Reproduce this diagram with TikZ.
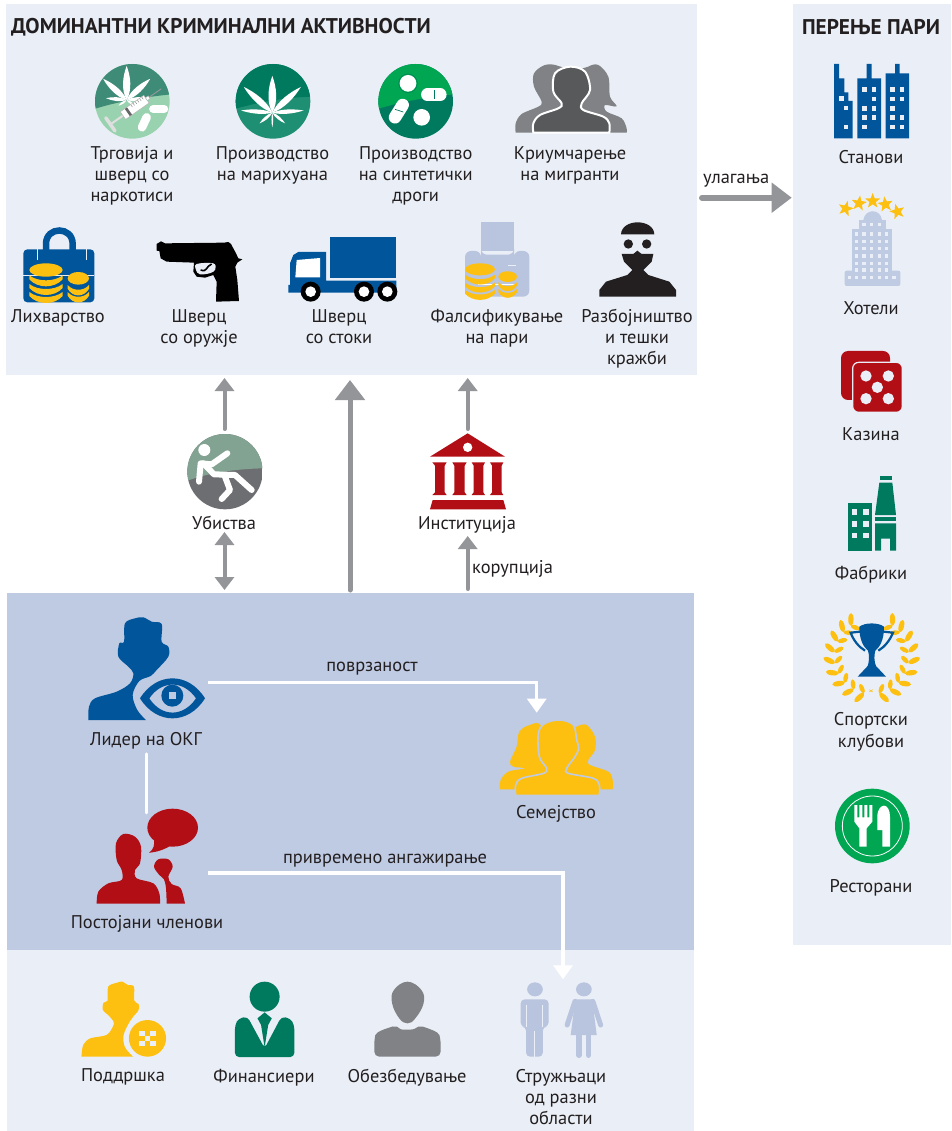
\documentclass[tikz,border=0pt]{standalone}
\usepackage{fontspec}
\setmainfont{PT Sans}
\usetikzlibrary{arrows.meta,shapes.geometric}
\definecolor{panelL}{HTML}{EAEFF7}
\definecolor{panelB}{HTML}{BFCAE3}
\definecolor{blueI}{HTML}{00559B}
\definecolor{redI}{HTML}{B10F15}
\definecolor{yelI}{HTML}{FDC010}
\definecolor{greenD}{HTML}{007A5E}
\definecolor{greenB}{HTML}{00A651}
\definecolor{grayA}{HTML}{939598}
\definecolor{grayI}{HTML}{808285}
\definecolor{grayD}{HTML}{58595B}
\definecolor{txt}{HTML}{231F20}
\definecolor{periw}{HTML}{B9C4DE}
\definecolor{c1t}{HTML}{3E8B77}
\definecolor{c1b}{HTML}{98D2AE}
\definecolor{c2b}{HTML}{1F8F73}
\definecolor{c4t}{HTML}{82A391}
\definecolor{c4b}{HTML}{6D6E71}
\tikzset{
 lbl/.style={anchor=north,inner sep=0pt,align=center,text=txt,font=\fontsize{18.4}{21.3}\selectfont},
 ttl/.style={anchor=base west,inner sep=0pt,text=txt,font=\fontsize{21.3}{24}\selectfont\bfseries},
 g1/.style={draw=grayA,line width=4pt,line cap=round,-{Triangle[length=13pt,width=19pt]}},
 g2/.style={draw=grayA,line width=4pt,{Triangle[length=13pt,width=19pt]}-{Triangle[length=13pt,width=19pt]}},
 g3/.style={draw=grayA,line width=5pt,line cap=round,-{Triangle[length=20pt,width=29pt]}},
 g4/.style={draw=grayA,line width=6pt,line cap=round,-{Triangle[length=20pt,width=29pt]}},
 w1/.style={draw=white,line width=3.2pt,-{Triangle[length=14pt,width=19pt]}},
 w2/.style={draw=white,line width=3.5pt,line cap=round},
 zA/.style={shift={(0,40)},scale=1/3},
 zB/.style={shift={(350,40)},scale=1/3},
 zC/.style={shift={(60,600)},scale=1/3},
 zD/.style={shift={(60,960)},xscale=1/2.8,yscale=1/3},
 zE/.style={shift={(800,50)},scale=1/3},
 zF/.style={shift={(800,460)},scale=1/3},
 zG/.style={shift={(170,375)},scale=1/3},
 zH/.style={shift={(480,670)},scale=1/3},
}
\newcommand{\lab}[4]{\node[lbl] (#3) at (#1,#2-14) {\rule{0pt}{14pt}#4};}
\newcommand{\sm}[2]{\fill[#1] plot[smooth,tension=.55] coordinates {#2} -- cycle;}
\newcommand{\leaflet}[3]{\begin{scope}[rotate=#1]\fill[white] (0,0) .. controls (#3,-#2*.3) and (#3*.7,-#2*.7) .. (0,-#2) .. controls (-#3*.7,-#2*.7) and (-#3,-#2*.3) .. cycle;\end{scope}}
\newcommand{\coins}[5]{%
 \fill[yelI] (#1,#2) ellipse ({#3} and {#4});
 \foreach \yy in {#5}{\fill[yelI] ({#1-#3},\yy) .. controls ({#1-#3*.5},{\yy+#4*1.0}) and ({#1+#3*.5},{\yy+#4*1.0}) .. ({#1+#3},\yy) -- ({#1+#3},{\yy+#4*.6}) .. controls ({#1+#3*.5},{\yy+#4*2.0}) and ({#1-#3*.5},{\yy+#4*2.0}) .. ({#1-#3},{\yy+#4*.6}) -- cycle;}
}
\newcommand{\win}[3]{\fill[panelL] (#1,#2) rectangle ++(#3,#3);}
\begin{document}
\begin{tikzpicture}[x=1pt,y=-1pt]
\useasboundingbox (0,0) rectangle (951,1131);
\fill[white] (0,0) rectangle (951,1131);
% panels
\fill[panelL] (6,4) rectangle (697,375);
\fill[panelL] (793,4) rectangle (951,945);
\fill[panelB] (7,593) rectangle (694,950);
\fill[panelL] (7,950) rectangle (694,1131);
% titles
\node[ttl] (tTitle) at (11,34) {ДОМИНАНТНИ КРИМИНАЛНИ АКТИВНОСТИ};
\node[ttl,anchor=base] (tLaund) at (871,35) {ПЕРЕЊЕ ПАРИ};
% ---- circle icons, row 1
\begin{scope}[zA]
 \begin{scope}
  \clip (397,184) circle (112);
  \fill[c1b] (280,60) rectangle (520,300);
  \fill[c1t] (280,208) .. controls (350,185) and (440,170) .. (515,163) -- (515,60) -- (280,60) -- cycle;
 \end{scope}
 \begin{scope}[shift={(380,180)}]
  \leaflet{0}{102}{17}\leaflet{48}{95}{14}\leaflet{-48}{95}{14}\leaflet{85}{62}{9}\leaflet{-85}{65}{9}\leaflet{125}{30}{5}\leaflet{-125}{30}{5}
 \end{scope}
 \draw[white,line width=8.5pt,line cap=round] (460,207) -- (492,207);
 \draw[white,line width=8.5pt,line cap=round] (440,232) -- (426,262);
 \begin{scope}[shift={(400,205)},rotate=35]
  \draw[white!75!gray,line width=2pt] (-84,0) -- (-35,0);
  \draw[white!75!gray,line width=3.5pt,line cap=round] (-84,-24) -- (-84,24);
  \fill[white,draw=gray!60,line width=.5pt] (-38,-14) rectangle (48,14);
  \fill[gray!80!black] (-22,-13) rectangle (-14,13);
  \foreach \q in {0,8,...,40}{\draw[gray,line width=.4pt] (\q,-13) -- (\q,-5);}
  \fill[white,draw=gray!60,line width=.4pt] (48,-5) rectangle (58,5);
  \draw[gray!80,line width=.9pt] (58,0) -- (102,0);
 \end{scope}
 % circle 2
 \begin{scope}
  \clip (819,184) circle (112);
  \fill[c2b] (700,60) rectangle (940,300);
  \fill[greenD] (700,208) .. controls (780,185) and (860,172) .. (935,170) -- (935,60) -- (700,60) -- cycle;
 \end{scope}
 \begin{scope}[shift={(817,218)}]
  \leaflet{0}{110}{18}\leaflet{48}{115}{15}\leaflet{-48}{115}{15}\leaflet{86}{94}{10}\leaflet{-86}{94}{10}\leaflet{130}{50}{7}\leaflet{-130}{50}{7}\leaflet{180}{44}{4}
 \end{scope}
\end{scope}
\begin{scope}[zB]
 \begin{scope}
  \clip (197,184) circle (112);
  \fill[greenD] (80,60) rectangle (320,300);
  \fill[greenB] (80,208) .. controls (150,185) and (240,170) .. (315,163) -- (315,60) -- (80,60) -- cycle;
 \end{scope}
 \fill[white] (174,130) circle (25);
 \draw[greenD,line width=.4pt] (174,130) circle (28);
 \fill[white] (215,232) circle (25);
 \draw[greenD,line width=.4pt] (215,232) circle (28);
 \draw[white,line width=12.5pt,line cap=round] (232,164) -- (271,164);
 \draw[greenD,line width=.7pt] (252,150) -- (252,178);
 \draw[white,line width=12.5pt,line cap=round] (158,195) -- (135,232);
 \draw[greenD,line width=.7pt] (135,208) -- (160,216);
 % migrants
 \sm{grayI}{(497,278)(497,250)(515,222)(565,200)(575,185)(552,140)(552,100)(585,75)(625,78)(660,110)(650,278)}
 \sm{grayI}{(680,278)(680,110)(715,80)(745,75)(775,110)(780,170)(800,199)(765,195)(770,215)(815,235)(830,265)(830,278)}
 \draw[white,line width=2pt,fill=grayD] plot[smooth,tension=.55] coordinates {(550,278)(550,250)(570,225)(625,205)(635,190)(610,155)(615,100)(660,80)(705,95)(720,150)(695,190)(700,210)(760,230)(778,250)(778,278)} -- cycle;
\end{scope}
% ---- row 2
\begin{scope}[zA]
 \draw[blueI,line width=6.5pt] (138,640) -- (138,612) .. controls (138,558) and (218,558) .. (218,612) -- (218,640);
 \fill[blueI,rounded corners=4pt] (70,628) rectangle (283,787);
 \draw[panelL,line width=.8pt] (70,705) -- (283,705);
 \draw[panelL,line width=.8pt] (113,628) -- (113,660);
 \draw[panelL,line width=.8pt] (258,628) -- (258,660);
 \fill[panelL] (120,702) rectangle (170,708);
 \coins{138}{690}{50}{20}{706,732,756}
 \coins{235}{715}{32}{19}{735,756}
 % pistol
 \fill[black] (470,612)--(483,604)--(495,610)--(672,608)--(685,606)--(693,612)--(708,640)--(715,655)--(727,658)--(712,668)--(706,680)--(712,720)--(717,783)--(648,785)--(650,725)--(640,705)--(615,713)--(590,710)--(580,695)--(582,668)--(500,665)--(482,655)--(478,633)--(470,632)--cycle;
 \fill[panelL] plot[smooth cycle,tension=.6] coordinates {(590,672)(640,670)(646,688)(632,699)(600,703)(588,690)};
 \draw[black,line width=1.6pt] (602,690) .. controls (622,698) and (618,678) .. (635,672);
 % truck
 \fill[blueI] (990,590) rectangle (1189,714);
 \fill[blueI] (870,670) -- (880,645) -- (895,636) -- (978,636) -- (978,722) -- (1189,722) -- (1189,758) -- (865,758) -- (865,735) -- (870,735) -- cycle;
 \fill[white] (890,660) -- (960,654) -- (960,712) -- (886,712) -- cycle;
 \foreach \wx in {932,1092,1162}{\fill[black] (\wx,755) circle (30);\fill[white] (\wx,755) circle (16);}
\end{scope}
\begin{scope}[zB]
 % printer
 \fill[periw] (393,547) rectangle (492,640);
 \fill[panelL] (385,640) rectangle (500,634);
 \fill[periw,rounded corners=6pt] (345,633) -- (393,633) -- (393,644) -- (492,644) -- (492,633) -- (538,633) -- (538,770) -- (345,770) -- cycle;
 \draw[panelL,line width=1pt] (475,678) -- (497,678);
 \draw[white,line width=1pt] (385,735) -- (500,735);
 \coins{390}{688}{45}{18}{704,728,750}
 \coins{473}{710}{28}{16}{727,747}
 % robber
 \fill[txt] (813,583) .. controls (815,535) and (911,535) .. (913,583) -- cycle;
 \fill[txt] (835,612) circle (14) (890,612) circle (14);
 \fill[txt] (815,642) -- (850,642) -- (862,632) -- (875,642) -- (910,642) -- (905,665) -- (880,690) -- (895,705) -- (958,725) -- (978,750) -- (978,770) -- (748,770) -- (748,750) -- (768,725) -- (832,705) -- (847,690) -- (822,665) -- cycle;
\end{scope}
% labels top panel
\lab{132}{159}{lTrade}{Трговија и\\шверц со\\наркотиси}
\lab{272.5}{159}{lMarij}{Производство\\на марихуана}
\lab{415.7}{159}{lSynth}{Производство\\на синтетички\\дроги}
\lab{570}{159}{lMigr}{Криумчарење\\на мигранти}
\lab{58}{322}{lLich}{Лихварство}
\lab{199}{322}{lOruz}{Шверц\\со оружје}
\lab{339}{322}{lStok}{Шверц\\со стоки}
\lab{497}{322}{lFals}{Фалсификување\\на пари}
\lab{637}{322}{lRazb}{Разбојништво\\и тешки\\кражби}
% ---- middle icons
\begin{scope}[zG]
 \begin{scope}
  \clip (165,290) circle (113);
  \fill[c4b] (50,170) rectangle (280,410);
  \fill[c4t] (50,318) .. controls (110,295) and (190,282) .. (280,280) -- (280,170) -- (50,170) -- cycle;
 \end{scope}
 \fill[white] (103,225) circle (18);
 \draw[white,line width=6pt,line cap=round,line join=round] (172,235) -- (125,268) -- (92,265) -- (87,320);
 \draw[white,line width=6pt,line cap=round,line join=round] (100,265) -- (132,298) -- (195,300) -- (245,345);
 \draw[white,line width=6pt,line cap=round,line join=round] (165,305) -- (180,345) -- (155,372);
 % institution
 \fill[redI] (780,245) -- (893,175) -- (1005,245) -- cycle;
 \fill[white] (893,217) circle (14);
 \foreach \a/\b/\c/\d in {787/830/795/824,847/890/853/884,905/945/911/940,960/1000/966/995}{
  \fill[redI] (\a,262) -- (\b,262) -- (\d,272) -- (\d,352) -- (\b,360) -- (\a,360) -- (\c,352) -- (\c,272) -- cycle;}
 \fill[redI] (788,375) -- (1000,375) -- (1008,403) -- (780,403) -- cycle;
\end{scope}
\lab{224}{529}{lUbist}{Убиства}
\lab{467}{529}{lInst}{Институција}
\node[lbl,anchor=base west] (lKor) at (472,573) {корупција};
\node[lbl,anchor=base west] (lUlag) at (703,184) {улагања};
% ---- arrows
\coordinate (ubA) at (224.5,429); \coordinate (ubB) at (224.5,378);
\coordinate (ubC) at (224.5,532); \coordinate (ubD) at (224.5,590);
\coordinate (bigA) at (350,590); \coordinate (bigB) at (350,380);
\coordinate (inA) at (467.7,429); \coordinate (inB) at (467.7,378);
\coordinate (korA) at (467.7,589); \coordinate (korB) at (467.7,536);
\coordinate (ulA) at (702,197.7); \coordinate (ulB) at (791.7,197.7);
\draw[g1] (ubA) -- (ubB);
\draw[g2] (ubC) -- (ubD);
\draw[g3] (bigA) -- (bigB);
\draw[g1] (inA) -- (inB);
\draw[g1] (korA) -- (korB);
\draw[g4] (ulA) -- (ulB);
% ---- blue panel icons
\begin{scope}[zC]
 \sm{blueI}{(85,360)(87,320)(105,295)(170,275)(210,250)(220,220)(205,200)(175,170)(178,130)(192,125)(195,70)(225,55)(250,52)(275,65)(305,72)(305,125)(325,140)(325,170)(290,210)(272,228)(238,243)(218,285)(232,330)(258,360)}
 \fill[blueI,even odd rule] (240,295) .. controls (290,215) and (385,215) .. (435,295) .. controls (385,375) and (290,375) .. (240,295) -- cycle
   (268,295) .. controls (305,240) and (370,240) .. (408,295) .. controls (370,352) and (305,352) .. (268,295) -- cycle;
 \fill[blueI] (337,287) circle (33);
 \fill[panelB] (327,277) rectangle (349,298);
 % members
 \sm{redI}{(110,911)(115,875)(145,850)(185,840)(185,810)(170,780)(168,730)(190,702)(225,710)(243,740)(240,790)(225,810)(230,835)(280,850)(298,880)(300,911)}
 \sm{redI}{(320,911)(318,865)(312,838)(298,825)(282,800)(295,778)(325,778)(338,800)(325,830)(335,852)(362,865)(375,911)}
 \fill[redI] (338,683) ellipse (76 and 57);
 \fill[redI] (282,715) .. controls (285,735) and (280,750) .. (267,758) .. controls (290,757) and (315,748) .. (335,735) -- cycle;
\end{scope}
\begin{scope}[zH]
 \sm{yelI}{(60,358)(62,330)(85,305)(135,295)(100,290)(90,275)(110,230)(118,185)(150,165)(185,170)(230,300)(107,358)}
 \sm{yelI}{(250,358)(250,200)(290,170)(320,165)(345,200)(345,240)(325,270)(330,285)(385,305)(398,330)(398,358)}
 \draw[panelB,line width=1.6pt,fill=yelI] plot[smooth,tension=.55] coordinates {(107,376)(107,345)(125,325)(190,310)(200,295)(178,260)(175,190)(195,160)(240,150)(280,165)(290,210)(296,235)(285,260)(260,295)(265,310)(340,325)(358,345)(358,376)} -- cycle;
\end{scope}
\lab{146}{745}{lLead}{Лидер на ОКГ}
\lab{147}{928}{lMemb}{Постојани членови}
\node[lbl,anchor=base] (lPovr) at (372,671.7) {поврзаност};
\node[lbl,anchor=base] (lPriv) at (385,863) {привремено ангажирање};
\lab{556}{818}{lFam}{Семејство}
\coordinate (leadOut) at (208,682.7); \coordinate (famIn) at (536.7,712.7);
\coordinate (leadDown) at (146.7,754); \coordinate (membUp) at (146.7,812.7);
\coordinate (membOut) at (208,873); \coordinate (expIn) at (563,979.3);
\draw[w1] (leadOut) -| (famIn);
\draw[w2] (leadDown) -- (membUp);
\draw[w1] (membOut) -| (expIn);
% ---- bottom panel
\begin{scope}[zD]
 \sm{yelI}{(60,290)(65,255)(85,235)(130,225)(148,200)(150,185)(135,165)(120,150)(122,128)(133,122)(135,80)(160,68)(175,65)(190,75)(207,80)(208,122)(220,132)(220,150)(205,170)(195,185)(178,225)(182,262)(205,290)}
 \fill[yelI] (245,235) ellipse (52 and 55);
 \foreach \qx/\qy in {222/212,252/212,237/227,222/242,252/242}{\fill[panelL] (\qx,\qy) rectangle ++(16,15);}
 \fill[greenD] (573,110) ellipse (42 and 45);
 \fill[greenD,rounded corners=4pt] (490,291) -- (490,195) -- (500,175) -- (525,170) -- (573,265) -- (620,170) -- (645,175) -- (656,195) -- (656,291) -- cycle;
 \fill[greenD] (553,175) -- (573,157) -- (593,175) -- (583,195) -- (573,262) -- (563,195) -- cycle;
 \fill[grayI] plot[smooth cycle,tension=.7] coordinates {(973,65)(1012,90)(1018,130)(995,175)(973,190)(950,175)(930,130)(935,90)};
 \fill[grayI,rounded corners=5pt] (880,290) -- (880,240) .. controls (885,215) and (915,205) .. (945,195) .. controls (955,210) and (990,210) .. (1003,195) .. controls (1030,205) and (1060,215) .. (1066,240) -- (1066,290) -- cycle;
 % man
 \fill[periw] (1330,88) ellipse (22 and 21);
 \fill[periw,rounded corners=4pt] (1290,200) -- (1290,118) -- (1368,118) -- (1368,200) -- (1352,200) -- (1352,290) -- (1305,290) -- (1305,200) -- cycle;
 \fill[panelL] (1306,135) rectangle (1309,200);
 \fill[panelL] (1349,135) rectangle (1352,200);
 \fill[panelL] (1327,212) rectangle (1331,292);
 % woman
 \fill[periw] (1467,88) ellipse (22 and 21);
 \fill[periw] (1443,118) -- (1490,118) -- (1503,225) -- (1430,225) -- cycle;
 \draw[periw,line width=5pt,line cap=round] (1442,124) -- (1420,195);
 \draw[periw,line width=5pt,line cap=round] (1492,124) -- (1514,195);
 \draw[periw,line width=5.2pt,line cap=round] (1453,225) -- (1453,286);
 \draw[periw,line width=5.2pt,line cap=round] (1480,225) -- (1480,286);
\end{scope}
\lab{123}{1081}{lPodd}{Поддршка}
\lab{264}{1082}{lFin}{Финансиери}
\lab{407}{1082}{lObez}{Обезбедување}
\lab{561}{1082}{lStr}{Стружњаци\\од разни\\области}
% ---- right panel icons
\begin{scope}[zE]
 \fill[blueI] (102,42)--(117,42)--(117,85)--(133,85)--(133,127)--(145,127)--(145,153)--(158,153)--(158,265)--(102,265)--cycle;
 \win{117}{139}{14}\win{131}{167}{14}\win{131}{224}{14}
 \fill[blueI] (172,85)--(200,85)--(200,42)--(215,42)--(215,85)--(243,85)--(243,265)--(172,265)--cycle;
 \win{187}{112}{14}\win{215}{112}{14}\win{215}{140}{14}\win{187}{168}{14}\win{215}{168}{14}\win{187}{196}{14}\win{215}{196}{14}\win{187}{224}{14}
 \fill[blueI] (257,70)--(285,70)--(285,42)--(299,42)--(299,70)--(327,70)--(327,265)--(257,265)--cycle;
 \win{271}{112}{14}\win{299}{112}{14}\win{271}{140}{14}\win{299}{140}{14}\win{271}{168}{14}\win{271}{196}{14}\win{299}{196}{14}\win{271}{224}{14}\win{299}{224}{14}
 % hotel
 \fill[panelB] (190,510) .. controls (195,475) and (241,475) .. (246,510) -- cycle;
 \fill[panelB] (176,510) rectangle (258,540);
 \fill[panelB] (157,538) rectangle (276,664);
 \fill[panelB,rounded corners=2pt] (134,662) rectangle (301,708);
 \foreach \wy in {547,569,591,613,635,655}{\foreach \wx in {165,187,209,233,255}{\win{\wx}{\wy}{10}}}
 \foreach \wx in {143,165,187,209,233,255,277}{\win{\wx}{677}{10}}
 \foreach \wx in {187,209,233}{\win{\wx}{519}{10}}
 \foreach \i/\sx/\sy/\rr in {1/137/476/-15,2/177/460/-8,3/218/453/0,4/256/463/8,5/292/485/15}{
  \node[star,star points=5,star point ratio=2.4,fill=yelI,inner sep=0pt,minimum size=16pt,rotate=\rr] (star\i) at (\sx,\sy) {};}
 % dice
 \fill[redI,rounded corners=7pt] (123,903) rectangle (270,1050);
 \draw[panelL,line width=1.2pt,fill=redI,rounded corners=6pt] (158,937) rectangle (307,1087);
 \foreach \dx/\dy in {198/978,265/978,232/1012,198/1046,265/1046}{\fill[panelL] (\dx,\dy) circle (17);}
\end{scope}
\lab{871}{163}{lFlat}{Станови}
\lab{871}{314.3}{lHot}{Хотели}
\lab{871}{440.7}{lCas}{Казина}
\begin{scope}[zF]
 \fill[greenD] (145,130) rectangle (217,272);
 \foreach \wx in {155,190}{\foreach \wy in {148,183,218}{\win{\wx}{\wy}{17}}}
 \fill[greenD] (240,48) rectangle (275,60);
 \fill[greenD] (238,68) -- (277,68) -- (288,165) -- (225,165) -- cycle;
 \fill[greenD] (225,172) rectangle (288,182);
 \fill[greenD] (225,190) -- (288,190) -- (288,272) -- (270,272) -- (270,236) -- (243,236) -- (243,272) -- (225,272) -- cycle;
 % laurel
 \foreach \la in {258,241,224,207,190,173,156,139,124}{
  \begin{scope}[shift={(215,590)},rotate=\la,shift={(112,0)}]
   \begin{scope}[rotate=-35]\fill[yelI] (19,0) ellipse (19 and 8);\end{scope}
   \begin{scope}[rotate=215]\fill[yelI] (15,0) ellipse (15 and 7);\end{scope}
  \end{scope}}
 \foreach \la in {282,299,316,333,350,367,384,401,416}{
  \begin{scope}[shift={(215,590)},rotate=\la,shift={(112,0)}]
   \begin{scope}[rotate=35]\fill[yelI] (19,0) ellipse (19 and 8);\end{scope}
   \begin{scope}[rotate=145]\fill[yelI] (15,0) ellipse (15 and 7);\end{scope}
  \end{scope}}
 \draw[yelI,line width=.6pt] (208,689) -- (218,696) (218,689) -- (208,696);
 % trophy
 \draw[blueI,line width=2.2pt] (180,515) -- (152,518) .. controls (160,540) and (175,560) .. (195,572);
 \draw[blueI,line width=2.2pt] (250,515) -- (279,518) .. controls (270,540) and (255,560) .. (235,572);
 \fill[blueI] (178,500) .. controls (195,487) and (235,487) .. (252,500) .. controls (252,540) and (240,560) .. (226,572) .. controls (222,585) and (222,605) .. (228,618) -- (258,650) -- (173,650) -- (203,618) .. controls (208,605) and (208,585) .. (204,572) .. controls (190,560) and (178,540) .. (178,500) -- cycle;
 % restaurant
 \fill[greenB] (217,1098) circle (112);
 \draw[white,line width=.8pt] (217,1098) circle (90);
 \fill[white] (163,1035) -- (172,1035) -- (172,1072) -- (178,1072) -- (178,1035) -- (187,1035) -- (187,1072) -- (193,1072) -- (193,1035) -- (202,1035) -- (202,1072) -- (208,1072) -- (208,1035) -- (217,1035) -- (217,1085) -- (200,1105) -- (200,1160) -- (178,1160) -- (178,1105) -- (163,1085) -- cycle;
 \fill[white] (232,1110) -- (232,1070) .. controls (232,1045) and (245,1037) .. (252,1037) .. controls (262,1037) and (270,1050) .. (270,1070) -- (270,1160) -- (247,1160) -- (247,1110) -- cycle;
\end{scope}
\lab{871}{579.3}{lFab}{Фабрики}
\lab{871}{725.7}{lSport}{Спортски\\клубови}
\lab{871}{892}{lRest}{Ресторани}
\end{tikzpicture}
\end{document}
